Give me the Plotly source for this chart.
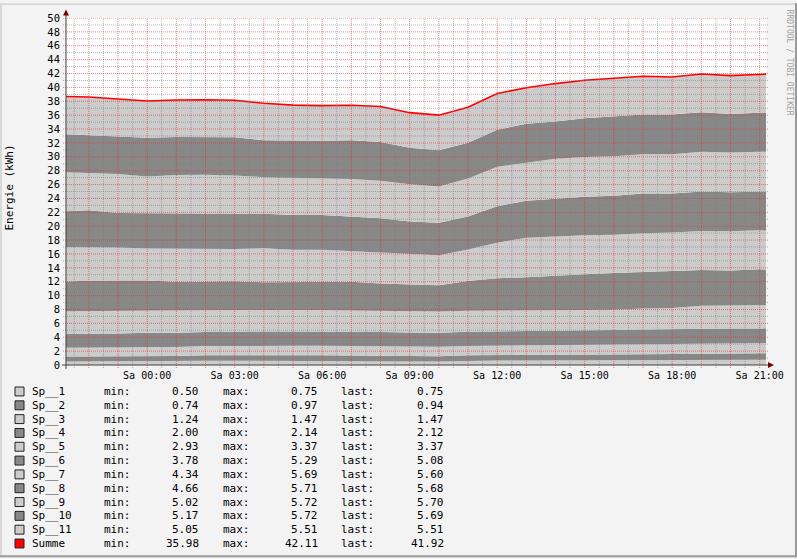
import numpy as np
import pandas as pd
import plotly.graph_objects as go

# ── Data (hourly samples) ─────────────────────────────────────────────────────
times = [
    "2011-01-14 21:13", "2011-01-14 22:00", "2011-01-14 23:00",
    "2011-01-15 00:00", "2011-01-15 01:00", "2011-01-15 02:00", "2011-01-15 03:00",
    "2011-01-15 04:00", "2011-01-15 05:00", "2011-01-15 06:00", "2011-01-15 07:00",
    "2011-01-15 08:00", "2011-01-15 09:00", "2011-01-15 10:00", "2011-01-15 11:00",
    "2011-01-15 12:00", "2011-01-15 13:00", "2011-01-15 14:00", "2011-01-15 15:00",
    "2011-01-15 16:00", "2011-01-15 17:00", "2011-01-15 18:00", "2011-01-15 19:00",
    "2011-01-15 20:00", "2011-01-15 21:00", "2011-01-15 21:13",
]

sp_1  = [0.50, 0.50, 0.52, 0.55, 0.55, 0.60, 0.62, 0.62, 0.62, 0.62, 0.60, 0.60, 0.52, 0.50, 0.60, 0.65, 0.65, 0.65, 0.65, 0.66, 0.66, 0.68, 0.70, 0.70, 0.72, 0.75]
sp_2  = [0.74, 0.74, 0.75, 0.76, 0.76, 0.80, 0.80, 0.78, 0.80, 0.80, 0.78, 0.76, 0.76, 0.76, 0.80, 0.82, 0.82, 0.84, 0.84, 0.86, 0.90, 0.92, 0.95, 0.97, 0.95, 0.94]
sp_3  = [1.24, 1.25, 1.26, 1.30, 1.30, 1.32, 1.34, 1.34, 1.34, 1.34, 1.36, 1.36, 1.38, 1.36, 1.34, 1.30, 1.30, 1.35, 1.38, 1.40, 1.42, 1.44, 1.45, 1.46, 1.47, 1.47]
sp_4  = [2.00, 2.00, 2.01, 2.03, 2.03, 2.05, 2.08, 2.08, 2.08, 2.08, 2.06, 2.04, 2.04, 2.02, 2.04, 2.05, 2.06, 2.08, 2.10, 2.12, 2.12, 2.13, 2.14, 2.13, 2.12, 2.12]
sp_5  = [3.25, 3.28, 3.25, 3.15, 3.20, 3.12, 3.10, 3.10, 3.10, 3.10, 3.05, 3.05, 3.08, 3.06, 3.05, 3.05, 3.00, 2.98, 2.95, 2.93, 3.05, 3.05, 3.30, 3.30, 3.35, 3.37]
sp_6  = [4.29, 4.38, 4.38, 4.38, 4.14, 4.14, 4.14, 4.00, 4.00, 4.00, 4.14, 3.95, 3.81, 3.78, 4.28, 4.62, 4.81, 5.00, 5.15, 5.29, 5.23, 5.25, 5.14, 5.05, 5.20, 5.08]
sp_7  = [5.00, 4.86, 4.76, 4.62, 4.76, 4.76, 4.62, 4.90, 4.67, 4.67, 4.43, 4.38, 4.38, 4.34, 4.53, 5.14, 5.69, 5.62, 5.61, 5.52, 5.62, 5.62, 5.62, 5.66, 5.62, 5.60]
sp_8  = [5.14, 5.29, 4.96, 5.10, 5.10, 5.10, 5.10, 4.96, 5.00, 5.00, 5.00, 5.00, 4.70, 4.66, 4.76, 5.24, 5.33, 5.48, 5.58, 5.62, 5.71, 5.62, 5.70, 5.62, 5.61, 5.68]
sp_9  = [5.62, 5.33, 5.62, 5.28, 5.52, 5.52, 5.52, 5.28, 5.33, 5.23, 5.37, 5.41, 5.39, 5.23, 5.47, 5.71, 5.53, 5.71, 5.71, 5.67, 5.66, 5.66, 5.72, 5.72, 5.70, 5.70]
sp_10 = [5.48, 5.48, 5.42, 5.57, 5.48, 5.42, 5.48, 5.31, 5.38, 5.48, 5.58, 5.60, 5.23, 5.24, 5.17, 5.30, 5.57, 5.38, 5.57, 5.71, 5.72, 5.72, 5.71, 5.57, 5.62, 5.69]
sp_11 = [5.43, 5.50, 5.40, 5.29, 5.34, 5.40, 5.34, 5.35, 5.12, 5.05, 5.05, 5.10, 5.07, 5.05, 5.10, 5.23, 5.20, 5.46, 5.48, 5.51, 5.51, 5.40, 5.51, 5.51, 5.50, 5.51]

series_names = ["Sp__1", "Sp__2", "Sp__3", "Sp__4", "Sp__5", "Sp__6",
                "Sp__7", "Sp__8", "Sp__9", "Sp__10", "Sp__11"]
series_values = [sp_1, sp_2, sp_3, sp_4, sp_5, sp_6, sp_7, sp_8, sp_9, sp_10, sp_11]

# GPRINT lines under the graph
legend_names = series_names + ["Summe"]
legend_min  = ["0.50", "0.74", "1.24", "2.00", "2.93", "3.78", "4.34", "4.66", "5.02", "5.17", "5.05", "35.98"]
legend_max  = ["0.75", "0.97", "1.47", "2.14", "3.37", "5.29", "5.69", "5.71", "5.72", "5.72", "5.51", "42.11"]
legend_last = ["0.75", "0.94", "1.47", "2.12", "3.37", "5.08", "5.60", "5.68", "5.70", "5.69", "5.51", "41.92"]

xtick_times  = ["2011-01-15 %02d:00" % h for h in range(0, 22, 3)]
xtick_labels = ["Sa 00:00", "Sa 03:00", "Sa 06:00", "Sa 09:00",
                "Sa 12:00", "Sa 15:00", "Sa 18:00", "Sa 21:00"]
ytick_vals = list(range(0, 51, 2))

# ── Style ─────────────────────────────────────────────────────────────────────
W, H = 797, 559
L, R, T, B = 66, 766, 15, 365          # canvas in pixels
LIGHT = "#CCCCCC"
DARK  = "#888888"
RED   = "#FF0000"
BACK  = "#F3F3F3"
AXIS  = "#404040"
GRID  = "rgba(130,130,130,0.6)"
MGRID = "rgba(222,48,48,0.6)"
MONO  = "DejaVu Sans Mono"


def px(x):
    return (x - L) / (R - L)


def py(y):
    return (B - y) / (B - T)


fig = go.Figure()

for i, (name, vals) in enumerate(zip(series_names, series_values)):
    fig.add_trace(go.Scatter(
        x=times, y=vals, name=name, stackgroup="sp",
        mode="lines", line=dict(width=0),
        fillcolor=LIGHT if i % 2 == 0 else DARK,
        showlegend=False,
    ))

summe = np.sum(np.array(series_values), axis=0)
fig.add_trace(go.Scatter(
    x=times, y=summe, name="Summe", mode="lines",
    line=dict(color=RED, width=1.6), showlegend=False,
))

shapes = []

# grid on top of the areas, like rrdtool does
for t in pd.date_range("2011-01-14 21:30", "2011-01-15 21:00", freq="30min"):
    shapes.append(dict(
        type="line", xref="x", yref="paper",
        x0=t.strftime("%Y-%m-%d %H:%M"), x1=t.strftime("%Y-%m-%d %H:%M"),
        y0=py(368), y1=1,
        line=dict(color=MGRID if t.minute == 0 else GRID, width=1, dash="1px,1px"),
        layer="above",
    ))
for v in range(1, 51):
    shapes.append(dict(
        type="line", xref="paper", yref="y", x0=px(63), x1=px(769), y0=v, y1=v,
        line=dict(color=MGRID if v % 2 == 0 else GRID, width=1, dash="1px,1px"),
        layer="above",
    ))

# axes with arrows
shapes += [
    dict(type="line", xref="paper", yref="paper", x0=0, x1=0, y0=py(369), y1=py(12),
         line=dict(color=AXIS, width=1), layer="above"),
    dict(type="line", xref="paper", yref="paper", x0=px(62), x1=px(768), y0=0, y1=0,
         line=dict(color=AXIS, width=1), layer="above"),
    dict(type="path", xref="paper", yref="paper",
         path=f"M {px(63)} {py(12.5)} L {px(69)} {py(12.5)} L {px(66)} {py(6.5)} Z",
         fillcolor="#7F0000", line=dict(width=0), layer="above"),
    dict(type="path", xref="paper", yref="paper",
         path=f"M {px(768)} {py(362)} L {px(768)} {py(368)} L {px(774)} {py(365)} Z",
         fillcolor="#7F0000", line=dict(width=0), layer="above"),
]

# 3d-ish frame round the image
for x0, x1, y0, y1, c in [
    (0, 2, 0, H, "#D8D8D8"), (0, W, 0, 2, "#D8D8D8"),
    (W - 2, W, 0, H, "#9A9A9A"), (0, W, H - 2, H, "#9A9A9A"),
]:
    shapes.append(dict(type="rect", xref="paper", yref="paper",
                       x0=px(x0), x1=px(x1), y0=py(y1), y1=py(y0),
                       fillcolor=c, line=dict(width=0), layer="above"))

# ── Legend (GPRINT rows) ──────────────────────────────────────────────────────
annotations = []
txt = dict(family=MONO, size=11, color="#000000")
for i, name in enumerate(legend_names):
    yc = 391.7 + 13.94 * i
    color = RED if name == "Summe" else (LIGHT if i % 2 == 0 else DARK)
    shapes.append(dict(type="rect", xref="paper", yref="paper",
                       x0=px(15), x1=px(24), y0=py(yc + 4.5), y1=py(yc - 4.5),
                       fillcolor=color, line=dict(color="#222222", width=1), layer="above"))
    cols = [
        (29.5, "left", name), (101.5, "left", "min:"), (201, "right", legend_min[i]),
        (220.5, "left", "max:"), (320, "right", legend_max[i]),
        (339, "left", "last:"), (446, "right", legend_last[i]),
    ]
    for x, anchor, s in cols:
        annotations.append(dict(
            xref="paper", yref="paper", x=px(x), y=py(yc), text=s,
            xanchor=anchor, yanchor="middle", showarrow=False, font=txt,
        ))

annotations.append(dict(
    xref="paper", yref="paper", x=px(10), y=py(186), text="Energie (kWh)",
    textangle=-90, showarrow=False, font=txt, xanchor="center", yanchor="middle",
))
annotations.append(dict(
    xref="paper", yref="paper", x=px(789), y=py(60), text="RRDTOOL / TOBI OETIKER",
    textangle=90, showarrow=False, font=dict(family=MONO, size=8, color="#A0A0A0"),
    xanchor="center", yanchor="middle",
))

fig.update_layout(
    width=W, height=H,
    margin=dict(l=L, r=W - R, t=T, b=H - B, pad=0),
    paper_bgcolor=BACK, plot_bgcolor="#FFFFFF",
    font=dict(family=MONO, size=10, color="#000000"),
    shapes=shapes, annotations=annotations,
    showlegend=False,
)
fig.update_xaxes(
    type="date", range=[times[0], times[-1]],
    showgrid=False, zeroline=False, showline=False, ticks="",
    tickvals=xtick_times, ticktext=xtick_labels,
    tickfont=dict(family=MONO, size=10), ticklabelstandoff=3,
)
fig.update_yaxes(
    range=[0, 50], showgrid=False, zeroline=False, showline=False, ticks="",
    tickvals=ytick_vals, ticktext=[str(v) for v in ytick_vals],
    tickfont=dict(family=MONO, size=10.5), ticklabelstandoff=5,
)

# page has the browser's default 8px body margin; drop it so the image sits at 0,0
fig.write_html(
    "out.html",
    config={"displayModeBar": False},
    post_script="document.body.style.margin = '0';",
)
